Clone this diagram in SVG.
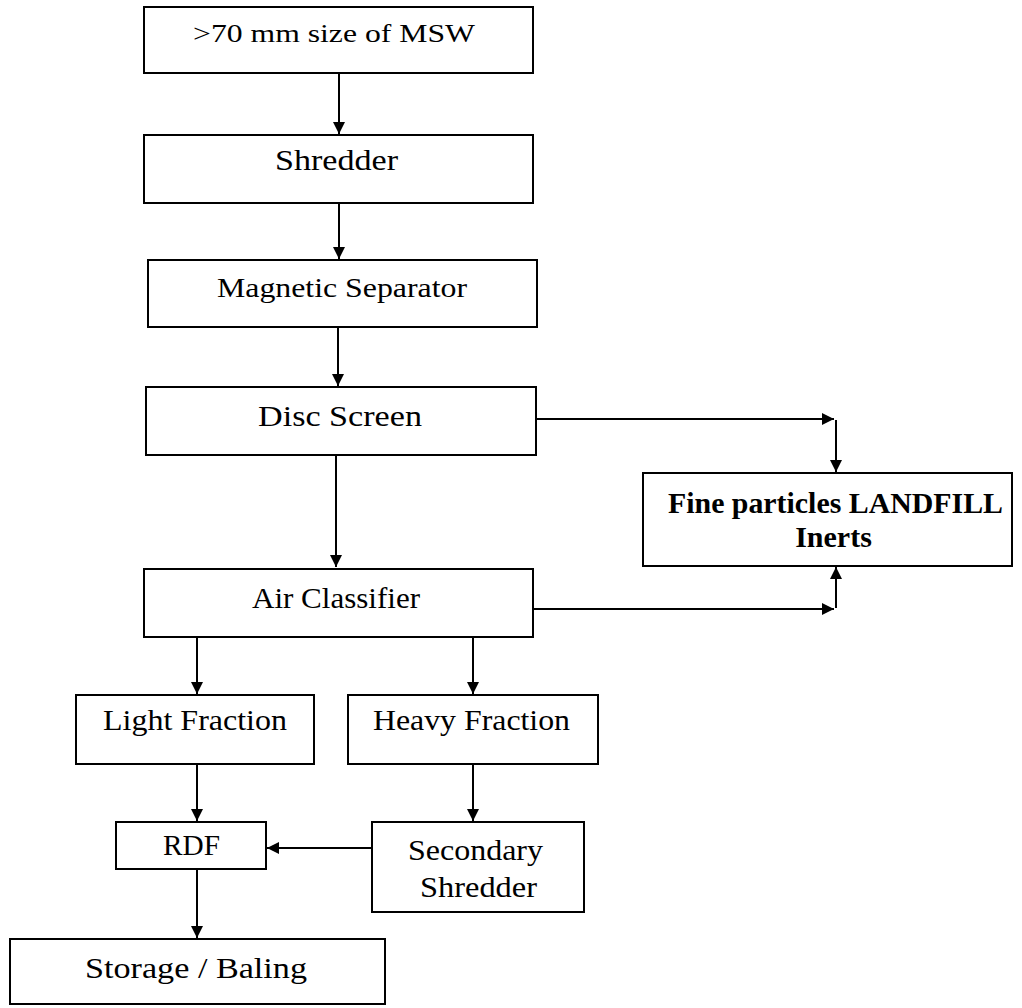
<svg xmlns="http://www.w3.org/2000/svg" width="1022" height="1008" viewBox="0 0 1022 1008">
<style>
.box{fill:#fff;stroke:#000;stroke-width:2}
.t{font-family:"Liberation Serif","Times New Roman",Tinos,"Nimbus Roman",Times,serif;font-size:30px;font-weight:400;fill:#000;text-anchor:middle}
.b{font-weight:700}
.c{stroke:#000;stroke-width:2;fill:none;marker-end:url(#ah)}
</style>
<defs>
<marker id="ah" viewBox="0 0 12 12" refX="12" refY="6" markerWidth="12" markerHeight="12" markerUnits="userSpaceOnUse" orient="auto">
<path d="M0,0 L12,6 L0,12 Z" fill="#000"/>
</marker>
</defs>
<rect width="1022" height="1008" fill="#fff"/>
<g id="connectors">
<path class="c" d="M339,73 V134"/>
<path class="c" d="M339,203 V259"/>
<path class="c" d="M338,327 V386"/>
<path class="c" d="M336,455 V567"/>
<path class="c" d="M536,419 H834"/>
<path class="c" d="M836,420 V472"/>
<path class="c" d="M533,609 H834"/>
<path class="c" d="M836,608 V567"/>
<path class="c" d="M197,637 V694"/>
<path class="c" d="M473,637 V694"/>
<path class="c" d="M197,764 V821"/>
<path class="c" d="M473,764 V821"/>
<path class="c" d="M372,848 H267"/>
<path class="c" d="M197,870 V938"/>
</g>
<g id="msw"><rect class="box" x="144" y="7" width="389" height="66"/><text class="t" x="334" y="42" style="font-size:26px" textLength="282" lengthAdjust="spacingAndGlyphs">&gt;70 mm size of MSW</text></g>
<g id="shredder"><rect class="box" x="144" y="135" width="389" height="68"/><text class="t" x="336.5" y="170" textLength="123" lengthAdjust="spacingAndGlyphs">Shredder</text></g>
<g id="magnetic"><rect class="box" x="148" y="260" width="389" height="67"/><text class="t" x="342" y="297" style="font-size:27px" textLength="250" lengthAdjust="spacingAndGlyphs">Magnetic Separator</text></g>
<g id="disc"><rect class="box" x="146" y="387" width="390" height="68"/><text class="t" x="340" y="426" textLength="164" lengthAdjust="spacingAndGlyphs">Disc Screen</text></g>
<g id="landfill"><rect class="box" x="643" y="473" width="369" height="93"/><text class="t b" x="835.5" y="513" textLength="335" lengthAdjust="spacingAndGlyphs">Fine particles LANDFILL</text><text class="t b" x="833.5" y="547">Inerts</text></g>
<g id="air"><rect class="box" x="144" y="569" width="389" height="68"/><text class="t" x="336" y="608" textLength="168" lengthAdjust="spacingAndGlyphs">Air Classifier</text></g>
<g id="light"><rect class="box" x="76" y="695" width="238" height="69"/><text class="t" x="195" y="730" textLength="184" lengthAdjust="spacingAndGlyphs">Light Fraction</text></g>
<g id="heavy"><rect class="box" x="348" y="695" width="250" height="69"/><text class="t" x="471.5" y="730" textLength="197" lengthAdjust="spacingAndGlyphs">Heavy Fraction</text></g>
<g id="rdf"><rect class="box" x="116" y="822" width="150" height="47"/><text class="t" x="191.5" y="855" textLength="57" lengthAdjust="spacingAndGlyphs">RDF</text></g>
<g id="secondary"><rect class="box" x="372" y="822" width="212" height="90"/><text class="t" x="475.5" y="860" textLength="135" lengthAdjust="spacingAndGlyphs">Secondary</text><text class="t" x="478.5" y="897" textLength="117" lengthAdjust="spacingAndGlyphs">Shredder</text></g>
<g id="storage"><rect class="box" x="10" y="939" width="375" height="65"/><text class="t" x="196" y="978" textLength="222" lengthAdjust="spacingAndGlyphs">Storage / Baling</text></g>
</svg>
